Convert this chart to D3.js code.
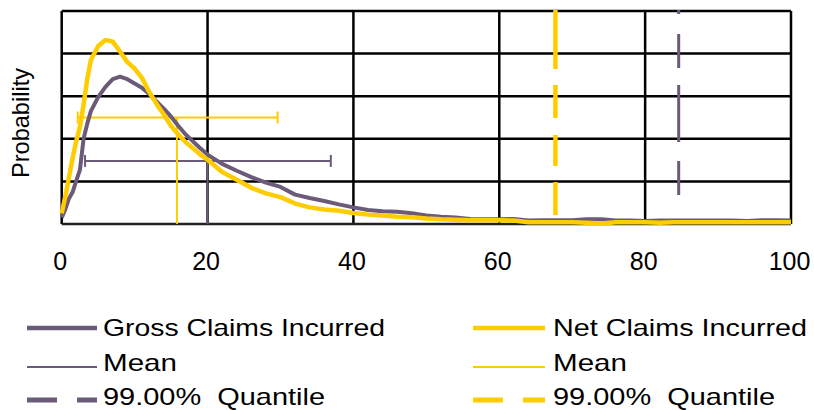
<!DOCTYPE html>
<html>
<head>
<meta charset="utf-8">
<script src="https://cdn.jsdelivr.net/npm/d3@7"></script>
<style>
  html, body { margin: 0; padding: 0; background: #fff; }
  svg { display: block; }
  text { font-family: "Liberation Sans", Arial, sans-serif; fill: #000; white-space: pre; }
</style>
</head>
<body>
<svg id="chart" width="814" height="410"></svg>
<script>
// ---- data ----
const xValues = [0, 0.5, 1, 1.5, 2, 2.5, 3, 3.5, 4, 5, 6, 7, 8, 9, 10, 11, 12, 13, 14, 15, 16, 17, 18, 19, 20,
  22, 24, 26, 28, 30, 32, 34, 36, 38, 40, 42, 44, 46, 48, 50, 52, 54, 56, 58, 60, 62, 64, 66, 68, 70,
  72, 74, 76, 78, 80, 82, 84, 86, 88, 90, 92, 94, 96, 98, 100];
const grossValues = [0.0015, 0.0035, 0.006, 0.0075, 0.0102, 0.0127, 0.0200, 0.0235, 0.0265, 0.0298, 0.0322, 0.0340, 0.0346, 0.0340, 0.0330, 0.0320, 0.0305, 0.0288, 0.0271, 0.0252, 0.0230, 0.0210, 0.0194, 0.0178, 0.0163,
  0.0141, 0.0125, 0.0110, 0.0097, 0.0087, 0.0069, 0.0061, 0.0054, 0.0046, 0.0039, 0.0033, 0.0030, 0.0029, 0.0025, 0.0020, 0.0017, 0.0015, 0.0012, 0.0011, 0.0011, 0.0012, 0.0008, 0.0009, 0.0009, 0.0009,
  0.0011, 0.0011, 0.0008, 0.0008, 0.0007, 0.0008, 0.0008, 0.0008, 0.0008, 0.0008, 0.0008, 0.0007, 0.0009, 0.0009, 0.0008];
const netValues = [0.0025, 0.0065, 0.011, 0.0155, 0.0195, 0.0228, 0.0280, 0.0340, 0.0385, 0.0418, 0.0432, 0.0428, 0.0405, 0.0380, 0.0365, 0.0343, 0.0310, 0.0282, 0.0257, 0.0230, 0.0210, 0.0192, 0.0178, 0.0163, 0.0151,
  0.0122, 0.0104, 0.0085, 0.0072, 0.0063, 0.0048, 0.0039, 0.0034, 0.0031, 0.0026, 0.0022, 0.0020, 0.0017, 0.0016, 0.0013, 0.0011, 0.0010, 0.0009, 0.0009, 0.0009, 0.0008, 0.0004, 0.0004, 0.0004, 0.0004,
  0.0003, 0.0001, 0.0004, 0.0004, 0.0004, 0.0003, 0.0004, 0.0004, 0.0004, 0.0004, 0.0004, 0.0004, 0.0004, 0.0004, 0.0004];

const seriesNames = ["Gross Claims Incurred", "Net Claims Incurred"];
const meanValues = [20.0, 15.8];          // mean x
const meanBarLow = [3.2, 2.2];            // spread bar low
const meanBarHigh = [36.9, 29.6];         // spread bar high
const meanBarLevel = [0.0148, 0.0250];    // probability level of spread bar
const quantileValues = [84.6, 67.7];      // 99% quantile
const legendLabels = [["Gross Claims Incurred", "Mean", "99.00%  Quantile"],
                      ["Net Claims Incurred", "Mean", "99.00%  Quantile"]];
const xTicks = [0, 20, 40, 60, 80, 100];
const yGrid = [0.01, 0.02, 0.03, 0.04, 0.05];

(function () {
// ---- styles ----
const colors = ["#6b5a78", "#ffcc00"];
const svg = d3.select("#chart");
const pLeft = 61.7, pRight = 791, pTop = 11, pBottom = 224;
const x = d3.scaleLinear().domain([0, 100]).range([pLeft, pRight]);
const y = d3.scaleLinear().domain([0, 0.05]).range([pBottom, pTop]);

// grid
const g = svg.append("g");
g.selectAll("line.hg").data(yGrid).join("line")
  .attr("x1", pLeft).attr("x2", pRight)
  .attr("y1", d => y(d)).attr("y2", d => y(d))
  .attr("stroke", "#000").attr("stroke-width", 2.5);
g.selectAll("line.vg").data(xTicks).join("line")
  .attr("x1", d => x(d)).attr("x2", d => x(d))
  .attr("y1", pTop).attr("y2", pBottom)
  .attr("stroke", "#000").attr("stroke-width", 2.5);
g.append("line").attr("x1", pLeft).attr("x2", pRight).attr("y1", pBottom).attr("y2", pBottom)
  .attr("stroke", "#222").attr("stroke-width", 2.5);

// x axis labels
const xAxis = d3.axisBottom(x).tickValues(xTicks).tickSize(0).tickPadding(0).tickFormat(d3.format("d"));
const ax = svg.append("g").attr("transform", `translate(-2,${pBottom})`).call(xAxis);
ax.select(".domain").remove();
ax.selectAll("text").attr("font-size", 25).attr("dy", null).attr("y", 46)
  .attr("font-family", "'Liberation Sans', Arial, sans-serif").attr("fill", "#000");

// y label
svg.append("text").attr("transform", "translate(29,123) rotate(-90)")
  .attr("text-anchor", "middle").attr("font-size", 24)
  .attr("textLength", 110).attr("lengthAdjust", "spacingAndGlyphs")
  .text("Probability");

// mean lines and bars
[0, 1].forEach(i => {
  const c = colors[i];
  svg.append("line").attr("x1", x(meanValues[i])).attr("x2", x(meanValues[i]))
    .attr("y1", y(0)).attr("y2", y(meanBarLevel[i]))
    .attr("stroke", c).attr("stroke-width", 2);
  svg.append("line").attr("x1", x(meanBarLow[i])).attr("x2", x(meanBarHigh[i]))
    .attr("y1", y(meanBarLevel[i])).attr("y2", y(meanBarLevel[i]))
    .attr("stroke", c).attr("stroke-width", 2);
  [meanBarLow[i], meanBarHigh[i]].forEach(v => {
    svg.append("line").attr("x1", x(v)).attr("x2", x(v))
      .attr("y1", y(meanBarLevel[i]) - 6).attr("y2", y(meanBarLevel[i]) + 6)
      .attr("stroke", c).attr("stroke-width", 2);
  });
});

// quantile lines
const qDash = ["4,20,34,17,57,19,34,40", "59,16,33,17,31,16,33,20"];
const qWidth = [3, 4.5];
[0, 1].forEach(i => {
  svg.append("line").attr("x1", x(quantileValues[i])).attr("x2", x(quantileValues[i]))
    .attr("y1", pTop - 1).attr("y2", pBottom)
    .attr("stroke", colors[i]).attr("stroke-width", qWidth[i])
    .attr("stroke-dasharray", qDash[i]);
});

// curves
const line = d3.line().x((d, i) => x(xValues[i])).y(d => y(d)).curve(d3.curveLinear);
svg.append("path").datum(grossValues).attr("d", line)
  .attr("fill", "none").attr("stroke", colors[0]).attr("stroke-width", 4).attr("stroke-linejoin", "round");
svg.append("path").datum(netValues).attr("d", line)
  .attr("fill", "none").attr("stroke", colors[1]).attr("stroke-width", 4.5).attr("stroke-linejoin", "round");

// legend
const legX = [[27, 97, 103], [473, 545, 553]];
const rowLineY = [328, 367, 400];
const rowTextY = [336, 371, 405];
const legWidths = [[282, 74, 222], [254, 74, 222]];
const legStroke = [4.5, 2, 5];
const legDash = [null, null, "30,20"];
[0, 1].forEach(col => {
  [0, 1, 2].forEach(row => {
    const l = svg.append("line").attr("x1", legX[col][0]).attr("x2", legX[col][1])
      .attr("y1", rowLineY[row]).attr("y2", rowLineY[row])
      .attr("stroke", colors[col]).attr("stroke-width", legStroke[row]);
    if (legDash[row]) l.attr("stroke-dasharray", legDash[row]);
    svg.append("text").attr("x", legX[col][2]).attr("y", rowTextY[row])
      .attr("font-size", 24).attr("textLength", legWidths[col][row]).attr("lengthAdjust", "spacingAndGlyphs")
      .text(legendLabels[col][row]);
  });
});
})();
</script>
</body>
</html>
